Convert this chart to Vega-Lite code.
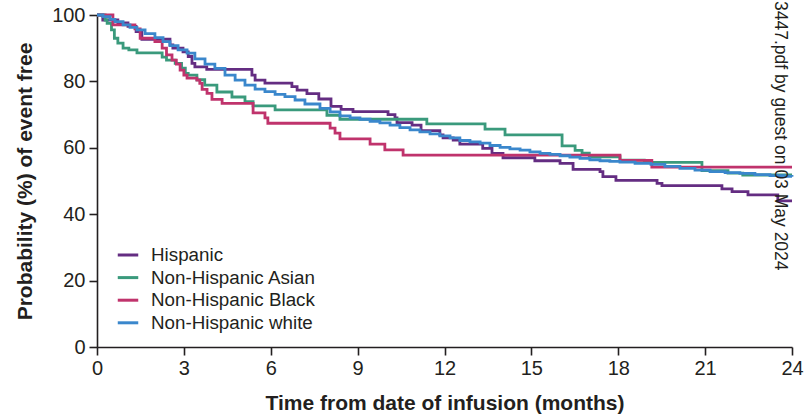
{
  "$schema": "https://vega.github.io/schema/vega-lite/v6.json",
  "width": 695,
  "height": 332,
  "autosize": {"type": "none"},
  "padding": {"left": 97, "top": 15, "right": 16, "bottom": 69},
  "background": "white",
  "config": {
    "view": {"stroke": null},
    "font": "Liberation Sans",
    "axis": {
      "grid": false,
      "domainColor": "#231f20",
      "domainWidth": 1.6,
      "tickColor": "#231f20",
      "tickWidth": 1.6,
      "tickSize": 8,
      "labelColor": "#231f20",
      "labelFontSize": 20,
      "titleColor": "#231f20",
      "titleFontSize": 21,
      "titleFontWeight": "bold"
    },
    "legend": {
      "orient": "none",
      "legendX": 19,
      "legendY": 228,
      "padding": 0,
      "symbolType": "stroke",
      "symbolStrokeWidth": 3,
      "symbolSize": 420,
      "labelFontSize": 18.8,
      "labelColor": "#231f20",
      "labelOffset": 11,
      "labelLimit": 0,
      "rowPadding": 0.6
    }
  },
  "layer": [
    {
      "data": {
        "values": [
          {"g": "Hispanic", "t": 0, "p": 100},
          {"g": "Hispanic", "t": 0.2, "p": 98.5},
          {"g": "Hispanic", "t": 0.72, "p": 97.6},
          {"g": "Hispanic", "t": 1.07, "p": 96.6},
          {"g": "Hispanic", "t": 1.35, "p": 95},
          {"g": "Hispanic", "t": 1.55, "p": 92.7},
          {"g": "Hispanic", "t": 2.52, "p": 91},
          {"g": "Hispanic", "t": 2.62, "p": 90},
          {"g": "Hispanic", "t": 2.97, "p": 88.9},
          {"g": "Hispanic", "t": 3.15, "p": 87.5},
          {"g": "Hispanic", "t": 3.28, "p": 85.4},
          {"g": "Hispanic", "t": 3.38, "p": 84.4},
          {"g": "Hispanic", "t": 3.79, "p": 83.6},
          {"g": "Hispanic", "t": 5.35, "p": 81.9},
          {"g": "Hispanic", "t": 5.46, "p": 80.4},
          {"g": "Hispanic", "t": 5.8, "p": 79.5},
          {"g": "Hispanic", "t": 6.73, "p": 78.4},
          {"g": "Hispanic", "t": 6.91, "p": 77.4},
          {"g": "Hispanic", "t": 7.25, "p": 76.3},
          {"g": "Hispanic", "t": 7.66, "p": 74.7},
          {"g": "Hispanic", "t": 8.08, "p": 72.5},
          {"g": "Hispanic", "t": 8.43, "p": 71.6},
          {"g": "Hispanic", "t": 8.84, "p": 70.9},
          {"g": "Hispanic", "t": 10.05, "p": 70},
          {"g": "Hispanic", "t": 10.29, "p": 69},
          {"g": "Hispanic", "t": 10.36, "p": 67.6},
          {"g": "Hispanic", "t": 10.88, "p": 66.8},
          {"g": "Hispanic", "t": 11.19, "p": 65.2},
          {"g": "Hispanic", "t": 11.84, "p": 63.9},
          {"g": "Hispanic", "t": 11.95, "p": 63},
          {"g": "Hispanic", "t": 12.3, "p": 62.3},
          {"g": "Hispanic", "t": 12.53, "p": 61.1},
          {"g": "Hispanic", "t": 13.32, "p": 59.8},
          {"g": "Hispanic", "t": 13.64, "p": 58.3},
          {"g": "Hispanic", "t": 14.02, "p": 57},
          {"g": "Hispanic", "t": 15.12, "p": 56.1},
          {"g": "Hispanic", "t": 15.99, "p": 55.3},
          {"g": "Hispanic", "t": 16.44, "p": 53.5},
          {"g": "Hispanic", "t": 17.37, "p": 52.8},
          {"g": "Hispanic", "t": 17.47, "p": 51.3},
          {"g": "Hispanic", "t": 17.92, "p": 50.2},
          {"g": "Hispanic", "t": 19.34, "p": 49.3},
          {"g": "Hispanic", "t": 19.51, "p": 48.6},
          {"g": "Hispanic", "t": 21.58, "p": 47.6},
          {"g": "Hispanic", "t": 21.93, "p": 46.8},
          {"g": "Hispanic", "t": 22.48, "p": 45.8},
          {"g": "Hispanic", "t": 23.51, "p": 44},
          {"g": "Hispanic", "t": 24, "p": 44},

          {"g": "Non-Hispanic Asian", "t": 0, "p": 100},
          {"g": "Non-Hispanic Asian", "t": 0.28, "p": 98.5},
          {"g": "Non-Hispanic Asian", "t": 0.35, "p": 97.5},
          {"g": "Non-Hispanic Asian", "t": 0.5, "p": 95.5},
          {"g": "Non-Hispanic Asian", "t": 0.6, "p": 93},
          {"g": "Non-Hispanic Asian", "t": 0.72, "p": 91.5},
          {"g": "Non-Hispanic Asian", "t": 0.9, "p": 90},
          {"g": "Non-Hispanic Asian", "t": 1.1, "p": 89.5},
          {"g": "Non-Hispanic Asian", "t": 1.38, "p": 88.6},
          {"g": "Non-Hispanic Asian", "t": 2.25, "p": 87.3},
          {"g": "Non-Hispanic Asian", "t": 2.4, "p": 86.4},
          {"g": "Non-Hispanic Asian", "t": 2.7, "p": 85.4},
          {"g": "Non-Hispanic Asian", "t": 2.92, "p": 84},
          {"g": "Non-Hispanic Asian", "t": 3.05, "p": 82.4},
          {"g": "Non-Hispanic Asian", "t": 3.15, "p": 81.9},
          {"g": "Non-Hispanic Asian", "t": 3.45, "p": 80.5},
          {"g": "Non-Hispanic Asian", "t": 3.72, "p": 78.9},
          {"g": "Non-Hispanic Asian", "t": 4.14, "p": 76.8},
          {"g": "Non-Hispanic Asian", "t": 4.66, "p": 75.3},
          {"g": "Non-Hispanic Asian", "t": 5.11, "p": 73.9},
          {"g": "Non-Hispanic Asian", "t": 5.39, "p": 72.6},
          {"g": "Non-Hispanic Asian", "t": 6.15, "p": 71.4},
          {"g": "Non-Hispanic Asian", "t": 7.94, "p": 69.8},
          {"g": "Non-Hispanic Asian", "t": 8.39, "p": 68.6},
          {"g": "Non-Hispanic Asian", "t": 11.39, "p": 67.2},
          {"g": "Non-Hispanic Asian", "t": 13.4, "p": 65.6},
          {"g": "Non-Hispanic Asian", "t": 14.09, "p": 63.9},
          {"g": "Non-Hispanic Asian", "t": 16.06, "p": 60.6},
          {"g": "Non-Hispanic Asian", "t": 16.51, "p": 59.2},
          {"g": "Non-Hispanic Asian", "t": 16.75, "p": 58.4},
          {"g": "Non-Hispanic Asian", "t": 17.0, "p": 57.3},
          {"g": "Non-Hispanic Asian", "t": 18.06, "p": 56.3},
          {"g": "Non-Hispanic Asian", "t": 18.9, "p": 55.6},
          {"g": "Non-Hispanic Asian", "t": 20.89, "p": 53.1},
          {"g": "Non-Hispanic Asian", "t": 21.79, "p": 52.4},
          {"g": "Non-Hispanic Asian", "t": 22.3, "p": 51.8},
          {"g": "Non-Hispanic Asian", "t": 24, "p": 51.8},

          {"g": "Non-Hispanic Black", "t": 0, "p": 100},
          {"g": "Non-Hispanic Black", "t": 0.55, "p": 97},
          {"g": "Non-Hispanic Black", "t": 1.31, "p": 95.8},
          {"g": "Non-Hispanic Black", "t": 1.49, "p": 93},
          {"g": "Non-Hispanic Black", "t": 2.0, "p": 92},
          {"g": "Non-Hispanic Black", "t": 2.25, "p": 90},
          {"g": "Non-Hispanic Black", "t": 2.4, "p": 88},
          {"g": "Non-Hispanic Black", "t": 2.59, "p": 86.4},
          {"g": "Non-Hispanic Black", "t": 2.74, "p": 85.2},
          {"g": "Non-Hispanic Black", "t": 2.87, "p": 83.4},
          {"g": "Non-Hispanic Black", "t": 3.0, "p": 81.9},
          {"g": "Non-Hispanic Black", "t": 3.11, "p": 81},
          {"g": "Non-Hispanic Black", "t": 3.45, "p": 80.4},
          {"g": "Non-Hispanic Black", "t": 3.55, "p": 79.4},
          {"g": "Non-Hispanic Black", "t": 3.63, "p": 77.6},
          {"g": "Non-Hispanic Black", "t": 3.8, "p": 76.4},
          {"g": "Non-Hispanic Black", "t": 3.97, "p": 74.6},
          {"g": "Non-Hispanic Black", "t": 4.32, "p": 73.4},
          {"g": "Non-Hispanic Black", "t": 5.39, "p": 70.5},
          {"g": "Non-Hispanic Black", "t": 5.8, "p": 69},
          {"g": "Non-Hispanic Black", "t": 5.9, "p": 67.4},
          {"g": "Non-Hispanic Black", "t": 8.05, "p": 65.9},
          {"g": "Non-Hispanic Black", "t": 8.22, "p": 64.4},
          {"g": "Non-Hispanic Black", "t": 8.39, "p": 62.7},
          {"g": "Non-Hispanic Black", "t": 9.43, "p": 61.1},
          {"g": "Non-Hispanic Black", "t": 9.94, "p": 59.4},
          {"g": "Non-Hispanic Black", "t": 10.57, "p": 57.8},
          {"g": "Non-Hispanic Black", "t": 18.06, "p": 56.2},
          {"g": "Non-Hispanic Black", "t": 19.16, "p": 54.2},
          {"g": "Non-Hispanic Black", "t": 24, "p": 54.2},

          {"g": "Non-Hispanic white", "t": 0, "p": 100},
          {"g": "Non-Hispanic white", "t": 0.21, "p": 99.5},
          {"g": "Non-Hispanic white", "t": 0.45, "p": 98.7},
          {"g": "Non-Hispanic white", "t": 0.62, "p": 98},
          {"g": "Non-Hispanic white", "t": 0.9, "p": 97},
          {"g": "Non-Hispanic white", "t": 1.14, "p": 96.3},
          {"g": "Non-Hispanic white", "t": 1.38, "p": 95.5},
          {"g": "Non-Hispanic white", "t": 1.66, "p": 94.4},
          {"g": "Non-Hispanic white", "t": 2.0, "p": 93.2},
          {"g": "Non-Hispanic white", "t": 2.28, "p": 92},
          {"g": "Non-Hispanic white", "t": 2.52, "p": 90.8},
          {"g": "Non-Hispanic white", "t": 2.8, "p": 89.5},
          {"g": "Non-Hispanic white", "t": 3.11, "p": 88.5},
          {"g": "Non-Hispanic white", "t": 3.38, "p": 86.8},
          {"g": "Non-Hispanic white", "t": 3.73, "p": 85.2},
          {"g": "Non-Hispanic white", "t": 4.07, "p": 83.9},
          {"g": "Non-Hispanic white", "t": 4.42, "p": 81.9},
          {"g": "Non-Hispanic white", "t": 4.77, "p": 80.4},
          {"g": "Non-Hispanic white", "t": 5.11, "p": 78.9},
          {"g": "Non-Hispanic white", "t": 5.46, "p": 77.7},
          {"g": "Non-Hispanic white", "t": 5.8, "p": 76.9},
          {"g": "Non-Hispanic white", "t": 6.15, "p": 76.1},
          {"g": "Non-Hispanic white", "t": 6.49, "p": 75.4},
          {"g": "Non-Hispanic white", "t": 6.84, "p": 74.4},
          {"g": "Non-Hispanic white", "t": 7.18, "p": 73.2},
          {"g": "Non-Hispanic white", "t": 7.7, "p": 71.9},
          {"g": "Non-Hispanic white", "t": 8.05, "p": 70.8},
          {"g": "Non-Hispanic white", "t": 8.39, "p": 69.6},
          {"g": "Non-Hispanic white", "t": 8.74, "p": 69},
          {"g": "Non-Hispanic white", "t": 9.08, "p": 68.6},
          {"g": "Non-Hispanic white", "t": 9.43, "p": 68},
          {"g": "Non-Hispanic white", "t": 9.77, "p": 67.5},
          {"g": "Non-Hispanic white", "t": 10.12, "p": 66.8},
          {"g": "Non-Hispanic white", "t": 10.46, "p": 66.1},
          {"g": "Non-Hispanic white", "t": 10.81, "p": 65.4},
          {"g": "Non-Hispanic white", "t": 11.15, "p": 64.8},
          {"g": "Non-Hispanic white", "t": 11.5, "p": 64.2},
          {"g": "Non-Hispanic white", "t": 11.84, "p": 63.6},
          {"g": "Non-Hispanic white", "t": 12.19, "p": 63},
          {"g": "Non-Hispanic white", "t": 12.53, "p": 62.2},
          {"g": "Non-Hispanic white", "t": 12.88, "p": 61.8},
          {"g": "Non-Hispanic white", "t": 13.23, "p": 61.4},
          {"g": "Non-Hispanic white", "t": 13.57, "p": 60.7},
          {"g": "Non-Hispanic white", "t": 13.92, "p": 60.1},
          {"g": "Non-Hispanic white", "t": 14.26, "p": 59.7},
          {"g": "Non-Hispanic white", "t": 14.61, "p": 59.3},
          {"g": "Non-Hispanic white", "t": 14.95, "p": 58.8},
          {"g": "Non-Hispanic white", "t": 15.3, "p": 58.3},
          {"g": "Non-Hispanic white", "t": 15.64, "p": 58},
          {"g": "Non-Hispanic white", "t": 15.99, "p": 57.6},
          {"g": "Non-Hispanic white", "t": 16.33, "p": 57.2},
          {"g": "Non-Hispanic white", "t": 16.68, "p": 56.8},
          {"g": "Non-Hispanic white", "t": 17.02, "p": 56.4},
          {"g": "Non-Hispanic white", "t": 17.37, "p": 56.1},
          {"g": "Non-Hispanic white", "t": 17.71, "p": 55.9},
          {"g": "Non-Hispanic white", "t": 18.06, "p": 55.7},
          {"g": "Non-Hispanic white", "t": 18.58, "p": 55.3},
          {"g": "Non-Hispanic white", "t": 19.13, "p": 55},
          {"g": "Non-Hispanic white", "t": 19.61, "p": 54.4},
          {"g": "Non-Hispanic white", "t": 20.13, "p": 53.8},
          {"g": "Non-Hispanic white", "t": 20.65, "p": 53.3},
          {"g": "Non-Hispanic white", "t": 21.17, "p": 52.8},
          {"g": "Non-Hispanic white", "t": 21.69, "p": 52.5},
          {"g": "Non-Hispanic white", "t": 22.2, "p": 52.3},
          {"g": "Non-Hispanic white", "t": 22.72, "p": 51.9},
          {"g": "Non-Hispanic white", "t": 23.24, "p": 51.6},
          {"g": "Non-Hispanic white", "t": 23.76, "p": 51.4},
          {"g": "Non-Hispanic white", "t": 24, "p": 51.3}
        ]
      },
      "mark": {"type": "line", "interpolate": "step-after", "strokeWidth": 2.8, "clip": false},
      "encoding": {
        "x": {
          "field": "t", "type": "quantitative",
          "scale": {"domain": [0, 24], "nice": false, "zero": false},
          "axis": {"values": [0, 3, 6, 9, 12, 15, 18, 21, 24], "labelPadding": 3, "titlePadding": 14, "labelFlush": false},
          "title": "Time from date of infusion (months)"
        },
        "y": {
          "field": "p", "type": "quantitative",
          "scale": {"domain": [0, 100], "nice": false},
          "axis": {"values": [0, 20, 40, 60, 80, 100], "labelPadding": 4, "titlePadding": 16},
          "title": "Probability (%) of event free"
        },
        "color": {
          "field": "g", "type": "nominal",
          "scale": {
            "domain": ["Hispanic", "Non-Hispanic Asian", "Non-Hispanic Black", "Non-Hispanic white"],
            "range": ["#642d82", "#3a9a7c", "#c0336c", "#3a87cc"]
          },
          "legend": {"title": null}
        }
      }
    },
    {
      "data": {"values": [{"t": 23.6, "p": 104.2, "label": "3447.pdf by guest on 03 May 2024"}]},
      "mark": {"type": "text", "angle": 90, "align": "left", "baseline": "middle", "fontSize": 17.5, "color": "#231f20", "font": "Liberation Sans"},
      "encoding": {
        "x": {"field": "t", "type": "quantitative", "title": "Time from date of infusion (months)"},
        "y": {"field": "p", "type": "quantitative", "title": "Probability (%) of event free"},
        "text": {"field": "label"}
      }
    }
  ]
}
